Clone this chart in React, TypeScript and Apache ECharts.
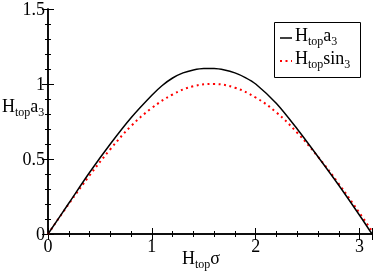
import React, { useEffect, useRef } from "react";
import * as echarts from "echarts";

const blackX = [0, 0.2, 0.4, 0.6, 0.8, 1.0, 1.1, 1.2, 1.3, 1.4, 1.5, 1.6, 1.7, 1.8, 1.9, 2.0, 2.2, 2.4, 2.6, 2.8, 3.0, 3.12];
const blackY = [0, 0.205, 0.41, 0.6, 0.775, 0.925, 0.99, 1.04, 1.074, 1.094, 1.104, 1.104, 1.094, 1.074, 1.043, 1.0, 0.87, 0.7, 0.515, 0.325, 0.125, 0.0];
const redX = [0, 0.2, 0.4, 0.6, 0.8, 1.0, 1.2, 1.4, 1.6, 1.8, 2.0, 2.2, 2.4, 2.6, 2.8, 3.0, 3.12];
const redY = [0, 0.2, 0.39, 0.565, 0.72, 0.84, 0.93, 0.985, 1.0, 0.975, 0.91, 0.81, 0.675, 0.515, 0.335, 0.14, 0.02];
const legendNames = ["a", "sin"];
const FONT = "Liberation Serif";

export default function App() {
  const ref = useRef<HTMLDivElement>(null);
  useEffect(() => {
    const chart = echarts.init(ref.current!, null, { renderer: "svg" });
    const axisLine = { lineStyle: { color: "#000", width: 1.5 } };
    const tick = { inside: true, length: 6, lineStyle: { color: "#000" } };
    const minor = { show: true, splitNumber: 5, length: 3, lineStyle: { color: "#000" } };
    const rich = {
      m: { fontFamily: FONT, fontSize: 18, color: "#000", lineHeight: 24 },
      s: { fontFamily: FONT, fontSize: 12, color: "#000", lineHeight: 12, verticalAlign: "bottom" as const },
    };
    chart.setOption({
      animation: false,
      grid: { left: 48, top: 7, right: 2, bottom: 42 },
      xAxis: [
        {
          type: "value", min: 0, max: 3.12, interval: 1,
          axisLine, axisTick: tick, minorTick: minor, splitLine: { show: false },
          axisLabel: { fontFamily: FONT, fontSize: 18, color: "#000", margin: 3, showMaxLabel: false },
        },
        {
          type: "value", min: 0, max: 3.12, interval: 1, position: "top",
          axisLine, axisTick: tick, minorTick: minor, splitLine: { show: false }, axisLabel: { show: false },
        },
      ],
      yAxis: [
        {
          type: "value", min: 0, max: 1.5, interval: 0.5,
          axisLine, axisTick: tick, minorTick: minor, splitLine: { show: false },
          axisLabel: { fontFamily: FONT, fontSize: 18, color: "#000", margin: 3 },
        },
        {
          type: "value", min: 0, max: 1.5, interval: 0.5, position: "right",
          axisLine, axisTick: tick, minorTick: minor, splitLine: { show: false }, axisLabel: { show: false },
        },
      ],
      series: [
        {
          type: "line", smooth: 0.4, showSymbol: false,
          data: redX.map((x, i) => [x, redY[i]]),
          lineStyle: { color: "#ff0000", width: 2, type: [2, 3.5] },
        },
        {
          type: "line", smooth: 0.3, showSymbol: false,
          data: blackX.map((x, i) => [x, blackY[i]]),
          lineStyle: { color: "#000", width: 1.5 },
        },
      ],
      graphic: [
        { type: "text", left: 2, top: 97, style: { text: "{m|H}{s|top}{m|a}{s|3}", rich } },
        { type: "text", left: 182, top: 249, style: { text: "{m|H}{s|top}{m|σ}", rich } },
        { type: "rect", shape: { x: 274.5, y: 22.5, width: 86, height: 55 }, style: { fill: "#fff", stroke: "#000", lineWidth: 1 } },
        { type: "line", shape: { x1: 280, y1: 38, x2: 292, y2: 38 }, style: { stroke: "#000", lineWidth: 1.5 } },
        { type: "line", shape: { x1: 280, y1: 61, x2: 292, y2: 61 }, style: { stroke: "#ff0000", lineWidth: 2, lineDash: [2, 3.5] } },
        { type: "text", left: 295, top: 26, style: { text: "{m|H}{s|top}{m|" + legendNames[0] + "}{s|3}", rich } },
        { type: "text", left: 295, top: 49, style: { text: "{m|H}{s|top}{m|" + legendNames[1] + "}{s|3}", rich } },
      ],
    });
    return () => chart.dispose();
  }, []);
  return <div ref={ref} style={{ position: "fixed", left: 0, top: 0, width: 374, height: 276 }} />;
}
